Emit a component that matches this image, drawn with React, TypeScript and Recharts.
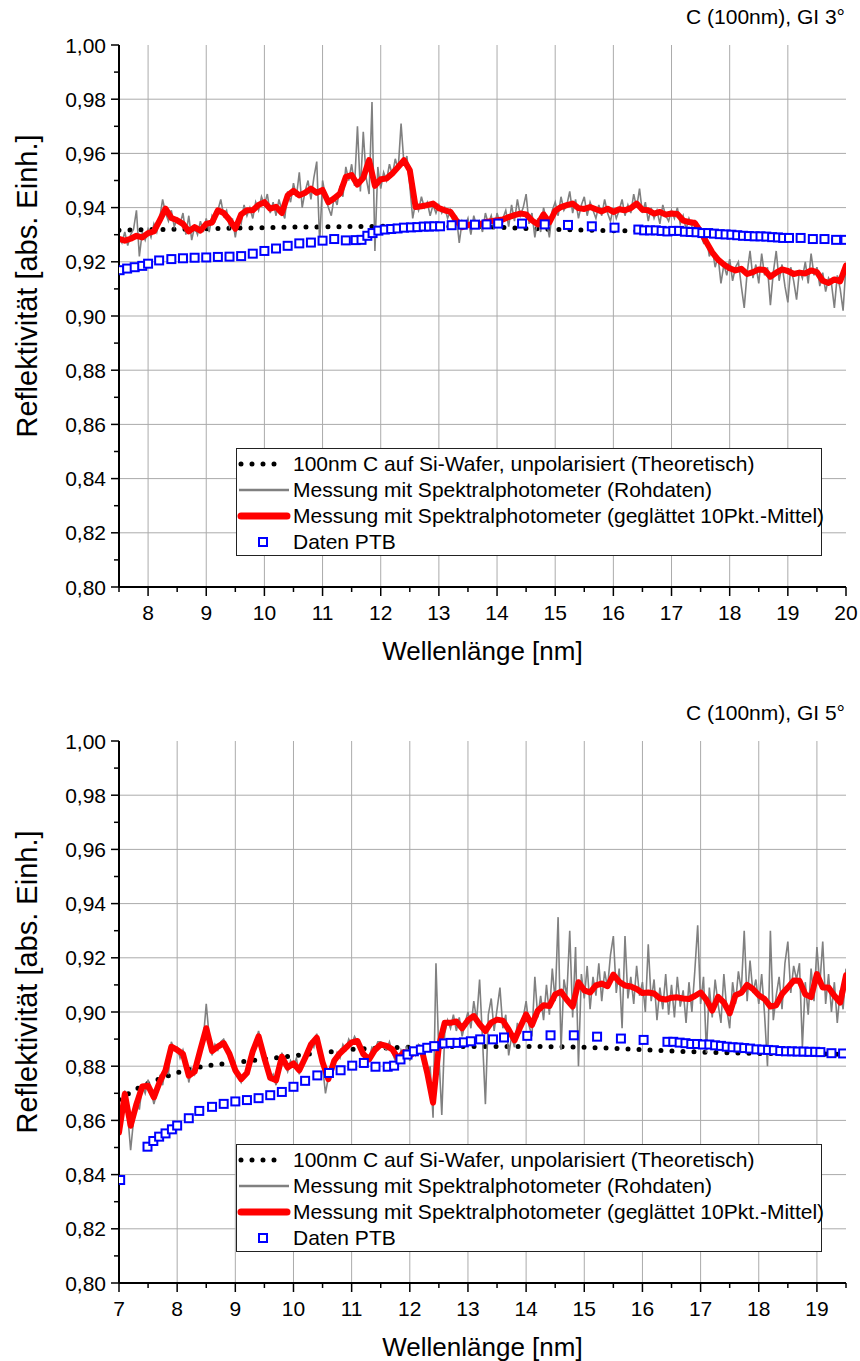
import React from 'react';
import { ComposedChart, Line, Scatter, XAxis, YAxis, CartesianGrid, Legend } from 'recharts';

const FONT = '"Liberation Sans", Arial, sans-serif';

// ---------- GI 3° ----------
const theo3X = [7.5, 8, 8.5, 9, 9.5, 10, 10.5, 11, 11.5, 12, 12.5, 13, 13.5, 14, 14.5, 15, 15.5, 16, 16.5, 17, 17.5, 18, 18.5, 19, 19.5, 20];
const theo3Y = [0.9316, 0.9319, 0.932, 0.9322, 0.9324, 0.9326, 0.9328, 0.9329, 0.933, 0.9331, 0.9332, 0.9331, 0.933, 0.9328, 0.9323, 0.9319, 0.9317, 0.9315, 0.9313, 0.9308, 0.9303, 0.9298, 0.9293, 0.9288, 0.9284, 0.928];

// raw spectrometer data, sampled every 0.05 nm from 7.5 nm
const raw3Start = 7.5;
const raw3Y = [
  0.929, 0.927, 0.931, 0.926, 0.930, 0.932, 0.939, 0.922, 0.931, 0.928,
  0.932, 0.929, 0.934, 0.931, 0.936, 0.943, 0.938, 0.935, 0.939, 0.933,
  0.936, 0.934, 0.938, 0.930, 0.937, 0.928, 0.933, 0.930, 0.935, 0.931,
  0.936, 0.931, 0.937, 0.935, 0.939, 0.943, 0.937, 0.939, 0.933, 0.936,
  0.929, 0.936, 0.934, 0.941, 0.937, 0.940, 0.936, 0.942, 0.939, 0.944,
  0.941, 0.945, 0.938, 0.942, 0.937, 0.943, 0.939, 0.936, 0.946, 0.942,
  0.949, 0.944, 0.953, 0.940, 0.946, 0.950, 0.943, 0.951, 0.957, 0.927,
  0.950, 0.944, 0.940, 0.937, 0.944, 0.941, 0.948, 0.944, 0.955, 0.950,
  0.956, 0.948, 0.970, 0.946, 0.968, 0.951, 0.945, 0.979, 0.924, 0.955,
  0.947, 0.953, 0.950, 0.956, 0.952, 0.958, 0.954, 0.971, 0.956, 0.959,
  0.948, 0.936, 0.942, 0.939, 0.944, 0.940, 0.942, 0.937, 0.941, 0.938,
  0.941, 0.938, 0.940, 0.936, 0.939, 0.934, 0.937, 0.927, 0.935, 0.933,
  0.936, 0.930, 0.937, 0.933, 0.935, 0.931, 0.938, 0.934, 0.937, 0.932,
  0.938, 0.934, 0.936, 0.939, 0.933, 0.941, 0.935, 0.943, 0.937, 0.940,
  0.945, 0.934, 0.938, 0.929, 0.936, 0.931, 0.940, 0.935, 0.929, 0.939,
  0.942, 0.937, 0.944, 0.939, 0.941, 0.946, 0.938, 0.943, 0.936, 0.941,
  0.944, 0.937, 0.942, 0.939, 0.936, 0.941, 0.937, 0.943, 0.938, 0.935,
  0.940, 0.936, 0.939, 0.943, 0.937, 0.941, 0.938, 0.945, 0.940, 0.947,
  0.938, 0.942, 0.935, 0.940, 0.936, 0.939, 0.934, 0.941, 0.937, 0.935,
  0.939, 0.936, 0.940, 0.934, 0.937, 0.932, 0.936, 0.933, 0.935, 0.931,
  0.930, 0.927, 0.929, 0.922, 0.925, 0.918, 0.922, 0.912, 0.919, 0.915,
  0.921, 0.913, 0.918, 0.920, 0.911, 0.903, 0.916, 0.924, 0.914, 0.919,
  0.912, 0.923, 0.915, 0.918, 0.904, 0.916, 0.924, 0.913, 0.919, 0.911,
  0.905, 0.918, 0.913, 0.906, 0.917, 0.914, 0.920, 0.912, 0.923, 0.915,
  0.918, 0.911, 0.916, 0.909, 0.914, 0.912, 0.903, 0.915, 0.910, 0.902,
  0.919,
];

// smoothed curve, every 0.1 nm from 7.5 nm
const smooth3Start = 7.5;
const smooth3Y = [
  0.9285, 0.9278, 0.9285, 0.9296, 0.929,
  0.9306, 0.9312, 0.9353, 0.9396, 0.9362, 0.9353, 0.934, 0.9312, 0.9328, 0.9315,
  0.934, 0.9345, 0.939, 0.938, 0.9355, 0.9322, 0.9375, 0.939, 0.939, 0.941,
  0.942, 0.9396, 0.9403, 0.938, 0.9445, 0.9462, 0.9445, 0.9455, 0.947, 0.9455,
  0.9465, 0.942, 0.9434, 0.9452, 0.9513, 0.952, 0.9485, 0.951, 0.9575, 0.948,
  0.9505, 0.9507, 0.9526, 0.955, 0.9575, 0.9538, 0.9402, 0.9405, 0.9409, 0.9415,
  0.9398, 0.939, 0.9384, 0.9353, 0.9328, 0.9335, 0.9341, 0.9338, 0.9347, 0.935,
  0.9353, 0.9356, 0.9365, 0.9372, 0.9378, 0.9375, 0.9353, 0.9338, 0.9375, 0.9345,
  0.9388, 0.9402, 0.9409, 0.9415, 0.9398, 0.9395, 0.9402, 0.9394, 0.9386, 0.9396,
  0.9384, 0.9394, 0.939, 0.9398, 0.9415, 0.9392, 0.939, 0.9378, 0.9384, 0.9374,
  0.9378, 0.9376, 0.9352, 0.9347, 0.9343, 0.9312, 0.9272, 0.9235, 0.9208, 0.919,
  0.9176, 0.9168, 0.9174, 0.9155, 0.9162, 0.9172, 0.917, 0.9145, 0.916, 0.9172,
  0.9166, 0.9155, 0.916, 0.9157, 0.9168, 0.9162, 0.913, 0.9122, 0.9135, 0.9128,
  0.9186,
];

const ptb3X = [7.51, 7.64, 7.77, 7.9, 8.0, 8.19, 8.4, 8.6, 8.8, 9.0, 9.2, 9.4, 9.6, 9.8, 10.0, 10.2, 10.4, 10.6, 10.8, 11.0, 11.2, 11.4, 11.57, 11.67, 11.77, 11.86, 11.96, 12.07, 12.18, 12.29, 12.4, 12.52, 12.63, 12.74, 12.83, 12.92, 13.02, 13.22, 13.41, 13.62, 13.82, 14.02, 14.43, 14.82, 15.22, 15.63, 16.02, 16.43, 16.53, 16.63, 16.73, 16.83, 16.93, 17.03, 17.13, 17.23, 17.33, 17.43, 17.53, 17.63, 17.73, 17.83, 17.93, 18.03, 18.13, 18.23, 18.33, 18.43, 18.53, 18.63, 18.73, 18.83, 18.92, 19.02, 19.22, 19.43, 19.63, 19.83, 19.99];
const ptb3Y = [0.9169, 0.9175, 0.918, 0.9185, 0.9193, 0.9205, 0.921, 0.9213, 0.9215, 0.9216, 0.9218, 0.9219, 0.9221, 0.923, 0.924, 0.9249, 0.9259, 0.9268, 0.9271, 0.9278, 0.9284, 0.9279, 0.928, 0.9281, 0.9296, 0.9306, 0.9315, 0.9319, 0.9321, 0.9323, 0.9326, 0.9327, 0.9328, 0.933, 0.933, 0.9331, 0.9331, 0.9335, 0.9337, 0.9337, 0.9338, 0.9341, 0.9341, 0.9338, 0.9336, 0.9331, 0.9326, 0.9319, 0.9316, 0.9316, 0.9316, 0.9314, 0.9312, 0.9314, 0.9314, 0.9311, 0.931, 0.9309, 0.9306, 0.9306, 0.9304, 0.9302, 0.9301, 0.93, 0.9298, 0.9296, 0.9295, 0.9294, 0.9294, 0.9293, 0.9291, 0.929, 0.9288, 0.9288, 0.9288, 0.9284, 0.9284, 0.9281, 0.9281];

// ---------- GI 5° ----------
const theo5X = [7, 7.25, 7.5, 7.75, 8, 8.25, 8.5, 9, 9.5, 10, 10.5, 11, 11.5, 12, 12.5, 13, 13.5, 14, 14.5, 15, 15.5, 16, 16.5, 17, 17.5, 18, 18.5, 19, 19.5];
const theo5Y = [0.8677, 0.871, 0.8737, 0.8758, 0.8776, 0.879, 0.8802, 0.8814, 0.8826, 0.8838, 0.885, 0.8862, 0.8867, 0.887, 0.8872, 0.8873, 0.8873, 0.8873, 0.8872, 0.887, 0.8866, 0.8861, 0.8856, 0.8852, 0.8849, 0.8847, 0.8846, 0.8845, 0.8844];

const raw5Start = 7.0;
const raw5Y = [
  0.858, 0.866, 0.871, 0.862, 0.849, 0.860, 0.867, 0.864, 0.873, 0.870,
  0.875, 0.871, 0.866, 0.870, 0.876, 0.873, 0.880, 0.877, 0.889, 0.886,
  0.887, 0.883, 0.886, 0.882, 0.874, 0.879, 0.877, 0.882, 0.886, 0.890,
  0.903, 0.891, 0.884, 0.888, 0.886, 0.889, 0.890, 0.887, 0.884, 0.881,
  0.879, 0.876, 0.874, 0.877, 0.878, 0.884, 0.887, 0.889, 0.893, 0.888,
  0.882, 0.878, 0.875, 0.877, 0.873, 0.878, 0.885, 0.881, 0.878, 0.882,
  0.880, 0.883, 0.877, 0.881, 0.884, 0.886, 0.889, 0.887, 0.892, 0.885,
  0.880, 0.870, 0.876, 0.878, 0.881, 0.885, 0.883, 0.888, 0.886, 0.890,
  0.888, 0.891, 0.889, 0.886, 0.884, 0.881, 0.883, 0.887, 0.886, 0.889,
  0.889, 0.887, 0.886, 0.889, 0.885, 0.882, 0.880, 0.886, 0.884, 0.887,
  0.882, 0.886, 0.884, 0.888, 0.887, 0.884, 0.875, 0.880, 0.861, 0.918,
  0.884, 0.862, 0.892, 0.897, 0.894, 0.899, 0.893, 0.898, 0.891, 0.896,
  0.900, 0.894, 0.904, 0.897, 0.912, 0.890, 0.866, 0.899, 0.905, 0.893,
  0.901, 0.909, 0.894, 0.899, 0.884, 0.891, 0.887, 0.896, 0.892, 0.898,
  0.904, 0.895, 0.891, 0.913, 0.898, 0.906, 0.897, 0.910, 0.899, 0.916,
  0.904, 0.935, 0.886, 0.912, 0.906, 0.930, 0.898, 0.924, 0.880, 0.914,
  0.905, 0.917, 0.901, 0.913, 0.906, 0.918, 0.904, 0.915, 0.909, 0.921,
  0.928, 0.907, 0.916, 0.894, 0.928, 0.905, 0.913, 0.903, 0.917, 0.906,
  0.911, 0.900, 0.925, 0.904, 0.912, 0.897, 0.909, 0.901, 0.914, 0.899,
  0.910, 0.898, 0.913, 0.902, 0.908, 0.896, 0.911, 0.900, 0.915, 0.932,
  0.903, 0.913, 0.885, 0.909, 0.898, 0.912, 0.903, 0.896, 0.914, 0.901,
  0.894, 0.911, 0.903, 0.915, 0.908, 0.930, 0.904, 0.919, 0.907, 0.912,
  0.903, 0.914, 0.899, 0.880, 0.930, 0.897, 0.906, 0.913, 0.901, 0.918,
  0.926, 0.907, 0.917, 0.912, 0.918, 0.887, 0.911, 0.899, 0.916, 0.904,
  0.924, 0.910, 0.926, 0.903, 0.914, 0.900, 0.911, 0.896, 0.908, 0.901,
  0.916,
];

const smooth5Start = 7.0;
const smooth5Y = [
  0.8555, 0.8698, 0.858, 0.866, 0.8725, 0.8728, 0.8685, 0.8742, 0.8785, 0.8872,
  0.886, 0.8845, 0.8765, 0.878, 0.8862, 0.894, 0.8856, 0.8872, 0.8885, 0.8845,
  0.8785, 0.8752, 0.8775, 0.8855, 0.891, 0.883, 0.8757, 0.8748, 0.8835, 0.8795,
  0.881, 0.8785, 0.883, 0.888, 0.8905, 0.8815, 0.8752, 0.882, 0.8848, 0.8868,
  0.8888, 0.8893, 0.8845, 0.8825, 0.886, 0.888, 0.8875, 0.8862, 0.8828, 0.8852,
  0.8838, 0.8856, 0.8866, 0.8775, 0.8665, 0.8875, 0.896, 0.896, 0.8965, 0.894,
  0.897, 0.8985, 0.8955, 0.893, 0.8961, 0.8972, 0.8968, 0.8935, 0.8895, 0.8945,
  0.8991, 0.8952, 0.9005, 0.9025, 0.9022, 0.9065, 0.9075, 0.9045, 0.902, 0.911,
  0.908, 0.9072, 0.9098, 0.9105, 0.9095, 0.9138, 0.9112, 0.9098, 0.9094, 0.9085,
  0.907, 0.9072, 0.9068, 0.905, 0.9046, 0.9053, 0.9054, 0.905, 0.9048, 0.9059,
  0.9072, 0.9045, 0.9005, 0.9056, 0.9035, 0.8995, 0.9062, 0.9071, 0.91, 0.9085,
  0.9062, 0.9048, 0.902, 0.9025, 0.9066, 0.909, 0.9116, 0.9115, 0.9065, 0.9055,
  0.914, 0.909, 0.909, 0.906, 0.9035, 0.9135,
];

const ptb5X = [7.02, 7.49, 7.59, 7.69, 7.8, 7.91, 8.0, 8.2, 8.38, 8.6, 8.8, 9.0, 9.2, 9.4, 9.6, 9.8, 10.0, 10.2, 10.41, 10.61, 10.81, 11.01, 11.21, 11.41, 11.62, 11.73, 11.84, 11.96, 12.07, 12.19, 12.3, 12.42, 12.59, 12.7, 12.82, 12.93, 13.05, 13.21, 13.43, 13.62, 14.02, 14.42, 14.82, 15.22, 15.63, 16.02, 16.43, 16.53, 16.64, 16.74, 16.84, 16.94, 17.04, 17.15, 17.25, 17.35, 17.45, 17.55, 17.65, 17.75, 17.85, 17.96, 18.06, 18.16, 18.26, 18.37, 18.47, 18.57, 18.67, 18.77, 18.87, 18.97, 19.06, 19.25, 19.45];
const ptb5Y = [0.838, 0.8503, 0.8524, 0.854, 0.8552, 0.8567, 0.8581, 0.8608, 0.8635, 0.865, 0.8661, 0.867, 0.8675, 0.8682, 0.8693, 0.8705, 0.8724, 0.8746, 0.8766, 0.8775, 0.8785, 0.8802, 0.8812, 0.8798, 0.8798, 0.8802, 0.8825, 0.8843, 0.8855, 0.8861, 0.8868, 0.8874, 0.8884, 0.8886, 0.8886, 0.8888, 0.8892, 0.8899, 0.8899, 0.8906, 0.8912, 0.8914, 0.8914, 0.8909, 0.8902, 0.8897, 0.889, 0.889, 0.8887, 0.8885, 0.8882, 0.8882, 0.888, 0.888, 0.8877, 0.8875, 0.8872, 0.887, 0.8869, 0.8867, 0.8865, 0.8862, 0.8861, 0.886, 0.8859, 0.8856, 0.8855, 0.8855, 0.8854, 0.8854, 0.8853, 0.8853, 0.8852, 0.8848, 0.8847];

// ---------- axes ----------
const yMajor = [0.8, 0.82, 0.84, 0.86, 0.88, 0.9, 0.92, 0.94, 0.96, 0.98, 1.0];
const yMinor = [0.81, 0.83, 0.85, 0.87, 0.89, 0.91, 0.93, 0.95, 0.97, 0.99];
const yGrid = [0.82, 0.84, 0.86, 0.88, 0.9, 0.92, 0.94, 0.96, 0.98];

const x3Major = [8, 9, 10, 11, 12, 13, 14, 15, 16, 17, 18, 19, 20];
const x3Minor = [7.5, 8.5, 9.5, 10.5, 11.5, 12.5, 13.5, 14.5, 15.5, 16.5, 17.5, 18.5, 19.5];
const x5Major = [7, 8, 9, 10, 11, 12, 13, 14, 15, 16, 17, 18, 19];
const x5Minor = [7.5, 8.5, 9.5, 10.5, 11.5, 12.5, 13.5, 14.5, 15.5, 16.5, 17.5, 18.5, 19.5];
const xGrid = [8, 9, 10, 11, 12, 13, 14, 15, 16, 17, 18, 19];

const legendLabels = [
  '100nm C auf Si-Wafer, unpolarisiert (Theoretisch)',
  'Messung mit Spektralphotometer (Rohdaten)',
  'Messung mit Spektralphotometer (geglättet 10Pkt.-Mittel)',
  'Daten PTB',
];

type Pt = { x: number; y: number };
const zip = (xs: number[], ys: number[]): Pt[] => xs.map((x, i) => ({ x, y: ys[i] }));
const sampled = (start: number, step: number, ys: number[]): Pt[] =>
  ys.map((y, i) => ({ x: Math.round((start + i * step) * 1000) / 1000, y }));

const tickText: React.CSSProperties = { fontFamily: FONT, fontSize: 21, fill: '#000' };
const isMajorY = (v: number) => Math.round(v * 100) % 2 === 0;
const fmtY = (v: number) => v.toFixed(2).replace('.', ',');

const bottomTick = (p: any) => {
  const v = p.payload.value;
  const major = Number.isInteger(v);
  return (
    <g>
      <line x1={p.x} x2={p.x} y1={p.y} y2={p.y + (major ? 9 : 5)} stroke="#000" strokeWidth={1.5} />
      {major && (
        <text x={p.x} y={p.y + 25} textAnchor="middle" dominantBaseline="central" style={tickText}>
          {v}
        </text>
      )}
    </g>
  );
};

const topTick = (p: any) => {
  const major = Number.isInteger(p.payload.value);
  return <line x1={p.x} x2={p.x} y1={p.y} y2={p.y + (major ? 9 : 5)} stroke="#000" strokeWidth={1.5} />;
};

const leftTick = (p: any) => {
  const v = p.payload.value;
  const major = isMajorY(v);
  return (
    <g>
      <line x1={p.x - (major ? 8 : 5)} x2={p.x} y1={p.y} y2={p.y} stroke="#000" strokeWidth={1.5} />
      {major && (
        <text x={p.x - 13} y={p.y} textAnchor="end" dominantBaseline="central" style={tickText}>
          {fmtY(v)}
        </text>
      )}
    </g>
  );
};

const rightTick = (p: any) => {
  const major = isMajorY(p.payload.value);
  return <line x1={p.x - (major ? 9 : 5)} x2={p.x} y1={p.y} y2={p.y} stroke="#000" strokeWidth={1.5} />;
};

const square = (p: any) => (
  <rect x={p.cx - 4} y={p.cy - 4} width={8} height={8} fill="#fff" stroke="#0000ff" strokeWidth={2} />
);

function LegendBox() {
  const symbol = (i: number) => {
    if (i === 0) return <line x1={4} x2={48} y1={13} y2={13} stroke="#000" strokeWidth={5} strokeDasharray="0 11" strokeLinecap="round" />;
    if (i === 1) return <line x1={2} x2={52} y1={13} y2={13} stroke="#808080" strokeWidth={2.5} />;
    if (i === 2) return <line x1={4} x2={50} y1={13} y2={13} stroke="#ff0000" strokeWidth={7} strokeLinecap="round" />;
    return <rect x={22} y={9} width={8} height={8} fill="#fff" stroke="#0000ff" strokeWidth={2} />;
  };
  return (
    <div
      style={{
        boxSizing: 'border-box',
        width: 586,
        height: 108,
        border: '1px solid #222',
        background: '#fff',
        paddingTop: 2,
        fontFamily: FONT,
        fontSize: 21,
        color: '#000',
      }}
    >
      {legendLabels.map((label, i) => (
        <div key={label} style={{ display: 'flex', alignItems: 'center', height: 26, whiteSpace: 'nowrap' }}>
          <svg width={56} height={26} style={{ display: 'block', flex: 'none' }}>
            {symbol(i)}
          </svg>
          <span style={{ lineHeight: '26px' }}>{label}</span>
        </div>
      ))}
    </div>
  );
}

type PanelProps = {
  title: string;
  domain: [number, number];
  xMajor: number[];
  xMinor: number[];
  theo: Pt[];
  raw: Pt[];
  smooth: Pt[];
  ptb: Pt[];
};

function Panel({ title, domain, xMajor, xMinor, theo, raw, smooth, ptb }: PanelProps) {
  const xTicks = [...xMinor, ...xMajor].sort((a, b) => a - b);
  const yTicks = [...yMinor, ...yMajor].sort((a, b) => a - b);
  return (
    <div style={{ position: 'relative', width: 860, height: 665 }}>
      <div
        style={{
          position: 'absolute',
          right: 15,
          top: 4,
          fontFamily: FONT,
          fontSize: 21,
          lineHeight: '26px',
          color: '#000',
          whiteSpace: 'nowrap',
        }}
      >
        {title}
      </div>
      <ComposedChart width={860} height={665} margin={{ top: 45, right: 14, bottom: 3, left: 9 }}>
        <CartesianGrid xAxisId="b" yAxisId="l" stroke="#ababab" strokeWidth={1} verticalValues={xGrid} horizontalValues={yGrid} />
        <XAxis
          xAxisId="b"
          type="number"
          dataKey="x"
          domain={domain}
          allowDataOverflow
          ticks={xTicks}
          interval={0}
          tickSize={0}
          tickMargin={0}
          tickLine={false}
          tick={bottomTick}
          height={75}
          axisLine={{ stroke: '#000', strokeWidth: 2 }}
          label={{
            content: (lp: any) => (
              <text
                x={lp.viewBox.x + lp.viewBox.width / 2}
                y={lp.viewBox.y + 64}
                textAnchor="middle"
                dominantBaseline="central"
                style={{ fontFamily: FONT, fontSize: 26, fill: '#000' }}
              >
                Wellenlänge [nm]
              </text>
            ),
          }}
        />
        <XAxis
          xAxisId="t"
          orientation="top"
          type="number"
          dataKey="x"
          domain={domain}
          allowDataOverflow
          ticks={xTicks}
          interval={0}
          tickSize={0}
          tickMargin={0}
          tickLine={false}
          tick={topTick}
          height={0}
          axisLine={{ stroke: '#000', strokeWidth: 1.5 }}
        />
        <YAxis
          yAxisId="l"
          type="number"
          dataKey="y"
          domain={[0.8, 1.0]}
          allowDataOverflow
          ticks={yTicks}
          interval={0}
          tickSize={0}
          tickMargin={0}
          tickLine={false}
          tick={leftTick}
          width={110}
          axisLine={{ stroke: '#000', strokeWidth: 2 }}
          label={{
            content: (lp: any) => {
              const cx = lp.viewBox.x + 18;
              const cy = lp.viewBox.y + lp.viewBox.height / 2 - 30;
              return (
                <text
                  x={cx}
                  y={cy}
                  transform={`rotate(-90 ${cx} ${cy})`}
                  textAnchor="middle"
                  dominantBaseline="central"
                  style={{ fontFamily: FONT, fontSize: 29, fill: '#000' }}
                >
                  Reflektivität [abs. Einh.]
                </text>
              );
            },
          }}
        />
        <YAxis
          yAxisId="r"
          orientation="right"
          type="number"
          dataKey="y"
          domain={[0.8, 1.0]}
          allowDataOverflow
          ticks={yTicks}
          interval={0}
          tickSize={0}
          tickMargin={0}
          tickLine={false}
          tick={rightTick}
          width={0}
          axisLine={{ stroke: '#000', strokeWidth: 1.5 }}
        />
        <Line
          xAxisId="b"
          yAxisId="l"
          data={theo}
          dataKey="y"
          type="linear"
          stroke="#000"
          strokeWidth={5}
          strokeDasharray="0 11"
          strokeLinecap="round"
          dot={false}
          activeDot={false}
          isAnimationActive={false}
        />
        <Line
          xAxisId="b"
          yAxisId="l"
          data={raw}
          dataKey="y"
          type="linear"
          stroke="#808080"
          strokeWidth={1.6}
          dot={false}
          activeDot={false}
          isAnimationActive={false}
        />
        <Line
          xAxisId="b"
          yAxisId="l"
          data={smooth}
          dataKey="y"
          type="linear"
          stroke="#ff0000"
          strokeWidth={6}
          strokeLinejoin="round"
          strokeLinecap="round"
          dot={false}
          activeDot={false}
          isAnimationActive={false}
        />
        <Scatter xAxisId="b" yAxisId="l" data={ptb} dataKey="y" shape={square} isAnimationActive={false} />
        <Legend
          layout="vertical"
          align="center"
          verticalAlign="middle"
          content={() => <LegendBox />}
          wrapperStyle={{ left: 236, top: 448, width: 586, height: 108 }}
        />
      </ComposedChart>
    </div>
  );
}

export default function App() {
  return (
    <div style={{ position: 'absolute', left: 0, top: 0, width: 860, height: 1361, background: '#fff', fontFamily: FONT }}>
      <div style={{ position: 'absolute', left: 0, top: 0 }}>
        <Panel
          title="C (100nm), GI 3°"
          domain={[7.5, 20]}
          xMajor={x3Major}
          xMinor={x3Minor}
          theo={zip(theo3X, theo3Y)}
          raw={sampled(raw3Start, 0.05, raw3Y)}
          smooth={sampled(smooth3Start, 0.1, smooth3Y)}
          ptb={zip(ptb3X, ptb3Y)}
        />
      </div>
      <div style={{ position: 'absolute', left: 0, top: 696 }}>
        <Panel
          title="C (100nm), GI 5°"
          domain={[7, 19.5]}
          xMajor={x5Major}
          xMinor={x5Minor}
          theo={zip(theo5X, theo5Y)}
          raw={sampled(raw5Start, 0.05, raw5Y)}
          smooth={sampled(smooth5Start, 0.1, smooth5Y)}
          ptb={zip(ptb5X, ptb5Y)}
        />
      </div>
    </div>
  );
}
